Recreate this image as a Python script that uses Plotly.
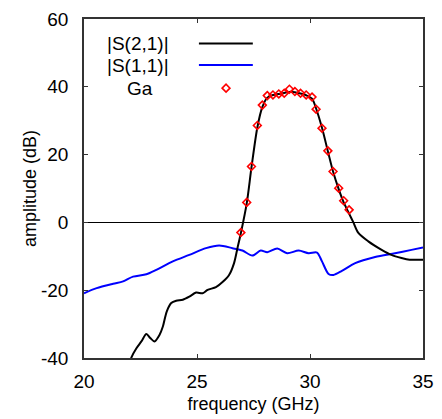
import plotly.graph_objects as go

# |S(2,1)| (black)
s21_f = [22.0, 22.1, 22.32, 22.54, 22.76, 22.93, 23.12, 23.34, 23.49, 23.66, 23.86, 24.08,
         24.37, 24.66, 24.96, 25.25, 25.47, 25.84, 26.13, 26.42, 26.64, 26.79, 26.94, 27.2,
         27.41, 27.67, 27.89, 28.11, 28.36, 28.62, 28.86, 29.09, 29.33, 29.58, 29.83, 30.09,
         30.27, 30.53, 30.79, 31.02, 31.27, 31.49, 31.73, 31.92, 32.14, 32.58, 33.17, 33.6,
         34.05, 34.41, 35.0]
s21_db = [-42.0, -39.8, -37.1, -35.1, -32.9, -34.1, -35.1, -33.2, -30.7, -26.3, -23.8, -23.1,
          -22.8, -21.9, -20.7, -20.9, -19.9, -19.1, -17.6, -15.5, -12.0, -7.6, -3.2, 5.6,
          16.2, 28.0, 34.0, 36.8, 37.6, 37.9, 38.2, 38.5, 38.4, 38.0, 37.5, 36.5,
          33.6, 27.9, 21.0, 15.0, 9.8, 5.9, 2.6, 0.0, -3.1, -5.6, -8.1, -9.6,
          -10.5, -11.0, -11.0]

# |S(1,1)| (blue)
s11_f = [20.0, 20.56, 21.29, 21.73, 22.17, 22.76, 23.2, 23.93, 24.66, 25.4, 25.98, 26.57,
         27.01, 27.45, 27.82, 28.11, 28.55, 28.99, 29.5, 29.94, 30.31, 30.53, 30.82, 31.04,
         31.41, 32.0, 32.88, 33.76, 34.49, 35.0]
s11_db = [-20.9, -19.4, -18.1, -17.4, -16.0, -15.3, -14.0, -11.5, -9.6, -7.6, -6.8, -7.6,
          -8.3, -9.8, -8.3, -8.8, -7.7, -9.1, -8.3, -9.1, -8.9, -11.5, -15.2, -15.5,
          -14.3, -12.0, -10.2, -9.1, -8.1, -7.4]

# Ga (red diamonds)
ga_f = [26.94, 27.2, 27.41, 27.67, 27.89, 28.11, 28.36, 28.62, 28.86, 29.09, 29.33, 29.58,
        29.83, 30.09, 30.27, 30.53, 30.79, 31.02, 31.27, 31.49, 31.73]
ga_db = [-3.0, 5.9, 16.5, 28.6, 34.6, 37.4, 37.6, 37.9, 38.1, 39.3, 38.6, 38.1,
         37.6, 37.0, 33.4, 27.8, 21.1, 15.0, 10.1, 6.4, 3.7]

x_ticks = [20, 25, 30, 35]
x_ticklabels = ["20", "25", "30", "35"]
y_ticks = [-40, -20, 0, 20, 40, 60]
y_ticklabels = ["-40", "-20", "0", "20", "40", "60"]
legend_names = ["|S(2,1)|", "|S(1,1)|", "Ga"]

FONT = "Liberation Sans, Arial, Helvetica, sans-serif"

fig = go.Figure()
fig.add_trace(go.Scatter(x=s11_f, y=s11_db, mode="lines", name=legend_names[1],
                         line=dict(color="#0000ff", width=2, shape="spline", smoothing=0.8)))
fig.add_trace(go.Scatter(x=s21_f, y=s21_db, mode="lines", name=legend_names[0],
                         line=dict(color="#000000", width=2, shape="spline", smoothing=0.8)))
fig.add_trace(go.Scatter(x=ga_f, y=ga_db, mode="markers", name=legend_names[2],
                         marker=dict(symbol="diamond-open", size=6, color="#ff0000",
                                     line=dict(color="#ff0000", width=1.6))))

axis_common = dict(showgrid=False, ticks="inside", ticklen=4, tickwidth=1, tickcolor="#333",
                   showline=True, linecolor="#333", linewidth=1.5, mirror="ticks",
                   automargin=False,
                   tickfont=dict(family=FONT, size=19, color="#000"))

fig.update_xaxes(range=[20, 35], tickvals=x_ticks, ticktext=x_ticklabels, zeroline=False,
                 ticklabelstandoff=5,
                 title=dict(text="frequency (GHz)", font=dict(family=FONT, size=18, color="#000"),
                            standoff=7),
                 **axis_common)
fig.update_yaxes(range=[-40, 60], tickvals=y_ticks, ticktext=y_ticklabels, zeroline=True,
                 zerolinecolor="#000", zerolinewidth=1, ticklabelstandoff=10,
                 title=dict(text="amplitude (dB)", font=dict(family=FONT, size=18, color="#000"),
                            standoff=0),
                 **axis_common)

# legend (gnuplot style: text left, sample right)
leg_font = dict(family=FONT, size=19, color="#000")
fig.add_annotation(xref="paper", yref="paper", x=0.257, y=0.928, text=legend_names[0],
                   showarrow=False, xanchor="right", yanchor="middle", font=leg_font)
fig.add_annotation(xref="paper", yref="paper", x=0.257, y=0.864, text=legend_names[1],
                   showarrow=False, xanchor="right", yanchor="middle", font=leg_font)
fig.add_annotation(xref="paper", yref="paper", x=0.165, y=0.796, text=legend_names[2],
                   showarrow=False, xanchor="center", yanchor="middle", font=leg_font)
fig.add_shape(type="line", xref="paper", yref="paper", x0=0.339, x1=0.498, y0=0.928, y1=0.928,
              line=dict(color="#000", width=2))
fig.add_shape(type="line", xref="paper", yref="paper", x0=0.339, x1=0.498, y0=0.864, y1=0.864,
              line=dict(color="#0000ff", width=2))
cx, cy, dx, dy = 0.419, 0.796, 0.0115, 0.0118
fig.add_shape(type="path", xref="paper", yref="paper",
              path=f"M {cx-dx} {cy} L {cx} {cy+dy} L {cx+dx} {cy} L {cx} {cy-dy} Z",
              line=dict(color="#ff0000", width=1.6))

fig.update_layout(width=442, height=419, margin=dict(l=84, r=19, t=19, b=61),
                  paper_bgcolor="white", plot_bgcolor="white", showlegend=False,
                  font=dict(family=FONT))

fig.write_html("out.html")
